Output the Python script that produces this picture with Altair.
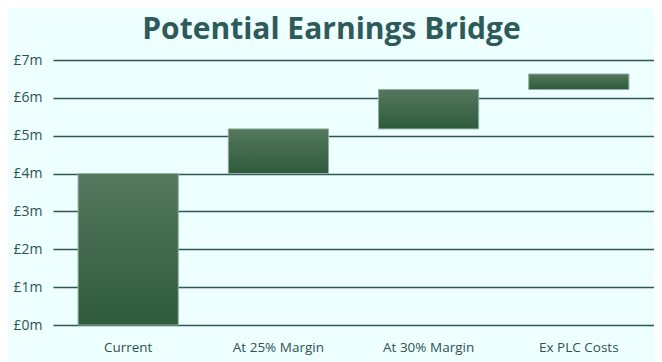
import altair as alt
import pandas as pd

categories = ["Current", "At 25% Margin", "At 30% Margin", "Ex PLC Costs"]
deltas = [4.0, 1.18, 1.04, 0.41]  # £m

starts, ends = [], []
running = 0.0
for d in deltas:
    starts.append(running)
    running += d
    ends.append(running)

df = pd.DataFrame({"category": categories, "start": starts, "end": ends})

text_color = "#2f5252"
bg = "#eeffff"

chart = (
    alt.Chart(df)
    .mark_bar(
        color=alt.Gradient(
            gradient="linear",
            stops=[
                alt.GradientStop(color="#54785d", offset=0),
                alt.GradientStop(color="#2f5a3c", offset=1),
            ],
            x1=0, x2=0, y1=0, y2=1,
        ),
        stroke="#8fb0a0",
        strokeWidth=1,
    )
    .encode(
        x=alt.X(
            "category:N",
            sort=categories,
            title=None,
            scale=alt.Scale(paddingInner=0.333, paddingOuter=0.167),
            axis=alt.Axis(labelAngle=0, ticks=False, domain=False, labelPadding=15,
                          labelFontSize=13.5, labelColor=text_color, labelFont="Open Sans"),
        ),
        y=alt.Y(
            "start:Q",
            title=None,
            scale=alt.Scale(domain=[0, 7], nice=False),
            axis=alt.Axis(values=list(range(8)), labelExpr="'£' + datum.value + 'm'",
                          ticks=False, domain=False, grid=True, gridColor="#2f5555",
                          gridWidth=1.5, labelPadding=11, labelFontSize=14,
                          labelColor=text_color, labelFont="Open Sans"),
        ),
        y2="end:Q",
    )
    .properties(
        width=601,
        height=265,
        title=alt.TitleParams(
            "Potential Earnings Bridge",
            fontSize=30,
            font="Open Sans",
            fontWeight="bold",
            color="#2e5a5a",
            anchor="middle",
            dx=-22,
            offset=8,
        ),
        background=bg,
        padding={"left": 45, "top": 52, "right": 0, "bottom": 38},
        autosize=alt.AutoSizeParams(type="none"),
    )
    .configure_view(stroke=None)
)

chart.save("out.html", embed_options={"renderer": "svg", "actions": False})
